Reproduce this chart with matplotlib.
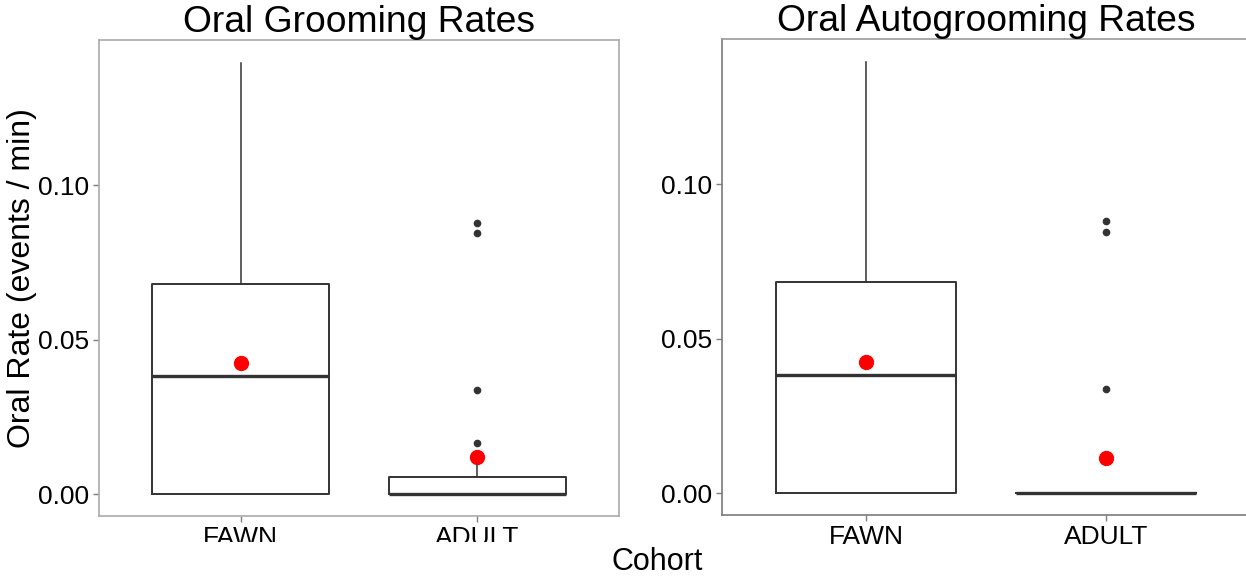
import matplotlib
matplotlib.use("Agg")
import matplotlib.pyplot as plt
from matplotlib.patches import Rectangle

plt.rcParams["font.family"] = ["Liberation Sans", "DejaVu Sans"]

# ── Datos ──
cohortes = ["FAWN", "ADULT"]

# Panel izquierdo: Oral Grooming
groom_q1 = [0.0, 0.0]
groom_med = [0.0382, 0.0]
groom_q3 = [0.0682, 0.0055]
groom_whislo = [0.0, 0.0]
groom_whishi = [0.1396, 0.011]
groom_outliers = [[], [0.0167, 0.0338, 0.0845, 0.0879]]
groom_means = [0.0424, 0.0122]

# Panel derecho: Oral Autogrooming
auto_q1 = [0.0, 0.0]
auto_med = [0.0382, 0.0]
auto_q3 = [0.0683, 0.0]
auto_whislo = [0.0, 0.0]
auto_whishi = [0.1396, 0.0]
auto_outliers = [[], [0.0339, 0.0845, 0.088]]
auto_means = [0.0425, 0.0114]

y_ticks = [0.00, 0.05, 0.10]
y_tick_labels = ["0.00", "0.05", "0.10"]


def stats(q1, med, q3, lo, hi, fl):
    return [dict(q1=a, med=b, q3=c, whislo=d, whishi=e, fliers=f)
            for a, b, c, d, e, f in zip(q1, med, q3, lo, hi, fl)]


def dibujar(ax, st, medias, titulo, spine_col):
    pos = list(range(1, len(cohortes) + 1))
    ax.bxp(st, positions=pos, widths=0.75, showfliers=True, patch_artist=False,
           boxprops=dict(color="#333333", lw=1.4),
           whiskerprops=dict(color="#333333", lw=1.1),
           capprops=dict(lw=0),
           medianprops=dict(color="#333333", lw=2.4, solid_capstyle="butt"),
           flierprops=dict(marker="o", markersize=4.5, markerfacecolor="#333333",
                           markeredgecolor="#333333"))
    ax.plot(pos, medias, "o", color="red", markersize=10, zorder=5, linestyle="none")
    ax.set_xlim(0.4, 2.6)
    ax.set_ylim(-0.007, 0.147)
    ax.set_xticks(pos)
    ax.set_xticklabels(cohortes)
    ax.set_yticks(y_ticks)
    ax.set_yticklabels(y_tick_labels)
    ax.tick_params(axis="both", labelsize=19, colors="#7f7f7f", labelcolor="black",
                   length=4, width=1, pad=3)
    for s in ax.spines.values():
        s.set_color(spine_col)
        s.set_linewidth(1.2)
    ax.set_title(titulo, fontsize=26.8, pad=3)


fig = plt.figure(figsize=(12.46, 5.77), dpi=100)
fig.patch.set_facecolor("white")

ax0 = fig.add_axes([99 / 1246, 61 / 577, 520 / 1246, 476 / 577])
ax1 = fig.add_axes([722 / 1246, 62 / 577, 528 / 1246, 476 / 577])

dibujar(ax0, stats(groom_q1, groom_med, groom_q3, groom_whislo, groom_whishi, groom_outliers),
        groom_means, "Oral Grooming Rates", "#aaaaaa")
dibujar(ax1, stats(auto_q1, auto_med, auto_q3, auto_whislo, auto_whishi, auto_outliers),
        auto_means, "Oral Autogrooming Rates", "#7a7a7a")
ax1.spines["top"].set_color("#9a9a9a")

ax0.set_ylabel("Oral Rate (events / min)", fontsize=23, labelpad=1)

# Recorte de las etiquetas del panel izquierdo (como en la imagen original)
fig.add_artist(Rectangle((120 / 1246, 25 / 577), 480 / 1246, 10 / 577,
                         transform=fig.transFigure, facecolor="white",
                         edgecolor="none", zorder=10))

fig.text(657 / 1246, 1 - 562 / 577, "Cohort", fontsize=22, ha="center", va="center",
         zorder=11)

plt.savefig("out.png", dpi=100, facecolor=fig.get_facecolor())
plt.close(fig)
